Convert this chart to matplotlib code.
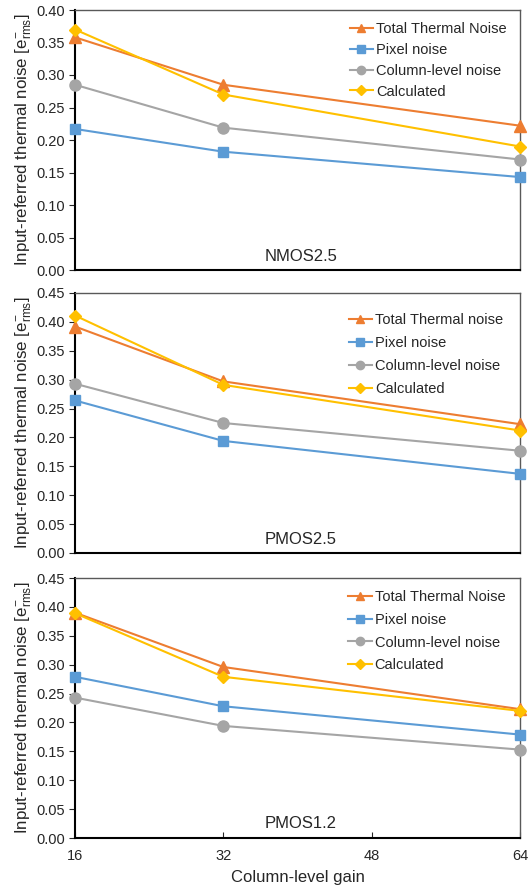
import matplotlib

matplotlib.use("Agg")
import matplotlib.pyplot as plt

gain = [16, 32, 64]

# NMOS2.5
nmos25_total = [0.358, 0.285, 0.222]
nmos25_pixel = [0.217, 0.182, 0.143]
nmos25_column = [0.285, 0.219, 0.170]
nmos25_calc = [0.370, 0.270, 0.190]

# PMOS2.5
pmos25_total = [0.392, 0.297, 0.223]
pmos25_pixel = [0.264, 0.194, 0.137]
pmos25_column = [0.293, 0.225, 0.177]
pmos25_calc = [0.411, 0.291, 0.212]

# PMOS1.2
pmos12_total = [0.390, 0.296, 0.223]
pmos12_pixel = [0.279, 0.228, 0.179]
pmos12_column = [0.243, 0.194, 0.153]
pmos12_calc = [0.389, 0.279, 0.220]

panel_names = ["NMOS2.5", "PMOS2.5", "PMOS1.2"]
total_labels = ["Total Thermal Noise", "Total Thermal noise", "Total Thermal Noise"]
y_max = [0.40, 0.45, 0.45]

plt.rcParams.update({
    "font.family": ["Liberation Sans", "DejaVu Sans"],
    "font.size": 10,
    "mathtext.fontset": "custom",
    "mathtext.rm": "Liberation Sans",
    "mathtext.it": "Liberation Sans:italic",
})

COLORS = {"total": "#ED7D31", "pixel": "#5B9BD5", "column": "#A5A5A5", "calc": "#FFC000"}
TXT = "#262626"

fig = plt.figure(figsize=(5.3, 8.9), dpi=100)
W, H = 530.0, 890.0
boxes = [(10, 270), (293, 553), (578, 838)]
left, right = 75, 520

data = [
    (nmos25_total, nmos25_pixel, nmos25_column, nmos25_calc),
    (pmos25_total, pmos25_pixel, pmos25_column, pmos25_calc),
    (pmos12_total, pmos12_pixel, pmos12_column, pmos12_calc),
]
legend_spacing = [0.47, 0.62, 0.6]
legend_top = [0.993, 0.963, 0.993]
legend_right = [0.993, 0.985, 0.99]

for i, ((top, bot), series) in enumerate(zip(boxes, data)):
    ax = fig.add_axes([left / W, 1 - bot / H, (right - left) / W, (bot - top) / H])
    total, pixel, column, calc = series
    kw = dict(linewidth=1.5, clip_on=False, zorder=3)
    ax.plot(gain, total, color=COLORS["total"], marker="^", markersize=8, label=total_labels[i], **kw)
    ax.plot(gain, pixel, color=COLORS["pixel"], marker="s", markersize=7.5, label="Pixel noise", **kw)
    ax.plot(gain, column, color=COLORS["column"], marker="o", markersize=8, label="Column-level noise", **kw)
    ax.plot(gain, calc, color=COLORS["calc"], marker="D", markersize=6.5, label="Calculated", **kw)

    ax.set_xlim(16, 64)
    ax.set_ylim(0, y_max[i])
    ax.set_yticks([v / 100 for v in range(0, int(round(y_max[i] * 100)) + 1, 5)])
    ax.yaxis.set_major_formatter(matplotlib.ticker.FormatStrFormatter("%.2f"))
    ax.set_xticks([16, 32, 48, 64])
    ax.tick_params(axis="y", direction="out", length=4, colors=TXT, labelsize=10.5, pad=3)
    ax.tick_params(axis="x", direction="in", length=4, colors=TXT, labelsize=10.5, pad=8)
    if i < 2:
        ax.tick_params(axis="x", length=0, labelbottom=False)
    else:
        ax.set_xlabel("Column-level gain", fontsize=12, color=TXT, labelpad=5)

    for s in ["top", "right"]:
        ax.spines[s].set_color("#595959")
        ax.spines[s].set_linewidth(1.0)
    for s in ["left", "bottom"]:
        ax.spines[s].set_color("#000000")
        ax.spines[s].set_linewidth(1.5)

    ax.set_ylabel(r"Input-referred thermal noise [e$^{-}_{\mathrm{rms}}$]", fontsize=12.2, color=TXT, labelpad=2)
    ax.text(0.427, 0.025, panel_names[i], transform=ax.transAxes, fontsize=12, color=TXT, ha="left", va="bottom")

    leg = ax.legend(loc="upper right", frameon=False, fontsize=10.5, handlelength=1.6,
                    handletextpad=0.2, labelspacing=legend_spacing[i], borderaxespad=0.3,
                    markerscale=0.75, bbox_to_anchor=(legend_right[i], legend_top[i]))
    for t in leg.get_texts():
        t.set_color(TXT)

fig.savefig("out.png", dpi=100)
